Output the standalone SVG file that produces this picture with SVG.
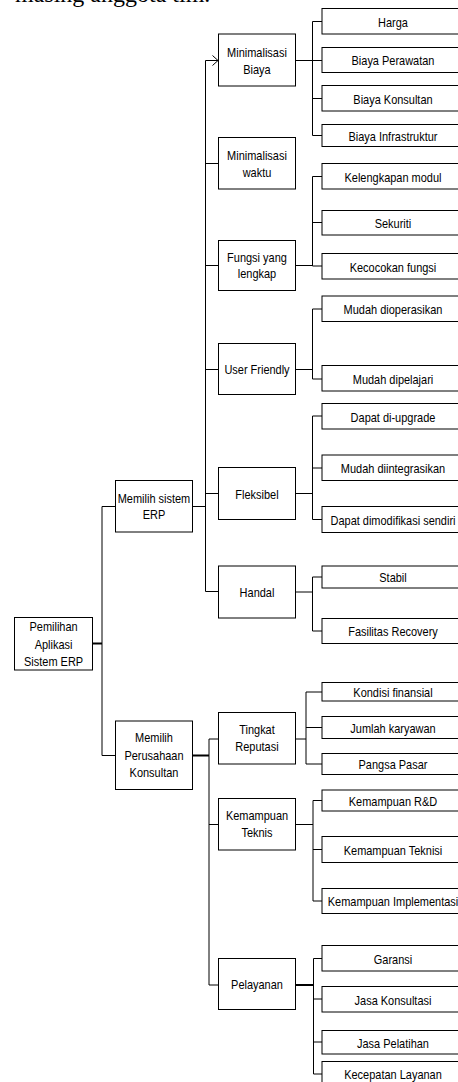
<svg xmlns="http://www.w3.org/2000/svg" width="458" height="1082" viewBox="0 0 458 1082">
<defs>
<style>
.box{fill:#fff;stroke:#000;stroke-width:1}
.t{font-family:"Liberation Sans",Arial,sans-serif;font-size:13px;fill:#000;text-anchor:middle}
.c{fill:none;stroke:#000;stroke-width:1}
.ct{fill:none;stroke:#000;stroke-width:2}
.cap{font-family:"Liberation Serif","Times New Roman",serif;font-size:24px;fill:#000}
</style>
<marker id="arr" viewBox="0 0 8 12" markerWidth="8" markerHeight="12" refX="6" refY="6" orient="auto" markerUnits="userSpaceOnUse">
<path d="M0.5,1 L6,6 L0.5,11" fill="none" stroke="#000" stroke-width="1"/>
</marker>
</defs>
<rect x="0" y="0" width="458" height="1082" fill="#fff"/>
<text class="cap" x="15" y="2">masing anggota tim.</text>

<g id="connectors">
<path class="ct" d="M92.5 643.5 H102"/>
<path class="c" d="M102 506.5 V755.5 M102 506.5 H115.5 M102 755.5 H115.5"/>
<path class="c" d="M192.5 506.5 H205.5 M205.5 60.5 V591.5 M205.5 163.5 H218.5 M205.5 265.5 H218.5 M205.5 369.5 H218.5 M205.5 493.5 H218.5 M205.5 591.5 H218.5"/>
<path class="c" d="M205.5 60.5 H218" marker-end="url(#arr)"/>
<path class="ct" d="M192.5 755.5 H209"/>
<path class="c" d="M209 739 V985 M209 739 H218.5 M209 824.5 H218.5 M209 985 H218.5"/>
<path class="c" d="M295.5 60.5 H312.5 M312.5 21.5 V135.5 M312.5 21.5 H322 M312.5 60.5 H322 M312.5 98.5 H322 M312.5 135.5 H322"/>
<path class="c" d="M295.5 265.5 H312.5 M312.5 176.5 V266 M312.5 176.5 H322 M312.5 222.5 H322 M312.5 266 H322"/>
<path class="c" d="M295.5 369.5 H312.5 M312.5 309 V379 M312.5 309 H322 M312.5 379 H322"/>
<path class="c" d="M295.5 493.5 H312.5 M312.5 416 V519.5 M312.5 416 H322 M312.5 468 H322 M312.5 519.5 H322"/>
<path class="c" d="M295.5 592 H312.5 M312.5 577 V631 M312.5 577 H322 M312.5 631 H322"/>
<path class="c" d="M295.5 739 H306 M306 692 V764 M306 692 H322 M306 727.5 H322 M306 764 H322"/>
<path class="c" d="M295.5 824.5 H313 M313 800.5 V901 M313 800.5 H322 M313 849.5 H322 M313 901 H322"/>
<path class="ct" d="M295.5 985 H313.5"/>
<path class="c" d="M313.5 958.5 V1074 M313.5 958.5 H322 M313.5 999 H322 M313.5 1042 H322 M313.5 1074 H322"/>
</g>

<g id="n-root"><rect class="box" x="14.5" y="617.5" width="78" height="52.5"/>
<text class="t" transform="scale(0.845 1)" x="63.43" y="631.5">Pemilihan</text>
<text class="t" transform="scale(0.845 1)" x="63.43" y="649">Aplikasi</text>
<text class="t" transform="scale(0.845 1)" x="63.43" y="666.5">Sistem ERP</text></g>

<g id="n-sistem"><rect class="box" x="115.5" y="480.5" width="77" height="51.5"/>
<text class="t" transform="scale(0.845 1)" x="182.25" y="503">Memilih sistem</text>
<text class="t" transform="scale(0.845 1)" x="182.25" y="519.5">ERP</text></g>

<g id="n-konsultan"><rect class="box" x="115.5" y="721" width="77" height="68.5"/>
<text class="t" transform="scale(0.845 1)" x="182.25" y="742">Memilih</text>
<text class="t" transform="scale(0.845 1)" x="182.25" y="759.7">Perusahaan</text>
<text class="t" transform="scale(0.845 1)" x="182.25" y="777.4">Konsultan</text></g>

<g id="n-biaya"><rect class="box" x="218.5" y="34" width="77" height="52"/>
<text class="t" transform="scale(0.845 1)" x="304.14" y="57.5">Minimalisasi</text>
<text class="t" transform="scale(0.845 1)" x="304.14" y="74">Biaya</text></g>

<g id="n-waktu"><rect class="box" x="218.5" y="137.5" width="77" height="51.5"/>
<text class="t" transform="scale(0.845 1)" x="304.14" y="160.5">Minimalisasi</text>
<text class="t" transform="scale(0.845 1)" x="304.14" y="177">waktu</text></g>

<g id="n-fungsi"><rect class="box" x="218.5" y="240.5" width="77" height="50"/>
<text class="t" transform="scale(0.845 1)" x="304.14" y="262">Fungsi yang</text>
<text class="t" transform="scale(0.845 1)" x="304.14" y="278.5">lengkap</text></g>

<g id="n-user"><rect class="box" x="218.5" y="343.5" width="77" height="51"/>
<text class="t" transform="scale(0.845 1)" x="304.14" y="374.5">User Friendly</text></g>

<g id="n-fleksibel"><rect class="box" x="218.5" y="467.5" width="77" height="52"/>
<text class="t" transform="scale(0.845 1)" x="304.14" y="499">Fleksibel</text></g>

<g id="n-handal"><rect class="box" x="218.5" y="566" width="77" height="52"/>
<text class="t" transform="scale(0.845 1)" x="304.14" y="597.5">Handal</text></g>

<g id="n-reputasi"><rect class="box" x="218.5" y="712.5" width="77" height="51.5"/>
<text class="t" transform="scale(0.845 1)" x="304.14" y="734.5">Tingkat</text>
<text class="t" transform="scale(0.845 1)" x="304.14" y="751.5">Reputasi</text></g>

<g id="n-teknis"><rect class="box" x="218.5" y="798.5" width="77" height="51.5"/>
<text class="t" transform="scale(0.845 1)" x="304.14" y="820.5">Kemampuan</text>
<text class="t" transform="scale(0.845 1)" x="304.14" y="837.5">Teknis</text></g>

<g id="n-pelayanan"><rect class="box" x="218.5" y="958.5" width="77" height="51"/>
<text class="t" transform="scale(0.845 1)" x="304.14" y="989.5">Pelayanan</text></g>

<g id="l-harga"><rect class="box" x="322" y="8.5" width="142" height="25.5"/><text class="t" transform="scale(0.845 1)" x="465.09" y="26.6">Harga</text></g>
<g id="l-perawatan"><rect class="box" x="322" y="47.5" width="142" height="25"/><text class="t" transform="scale(0.845 1)" x="465.09" y="65.3">Biaya Perawatan</text></g>
<g id="l-bkonsultan"><rect class="box" x="322" y="85.5" width="142" height="25.5"/><text class="t" transform="scale(0.845 1)" x="465.09" y="103.6">Biaya Konsultan</text></g>
<g id="l-infra"><rect class="box" x="322" y="124.5" width="142" height="22"/><text class="t" transform="scale(0.845 1)" x="465.09" y="140.8">Biaya Infrastruktur</text></g>
<g id="l-modul"><rect class="box" x="322" y="163.5" width="142" height="25.5"/><text class="t" transform="scale(0.845 1)" x="465.09" y="181.6">Kelengkapan modul</text></g>
<g id="l-sekuriti"><rect class="box" x="322" y="210.5" width="142" height="24.5"/><text class="t" transform="scale(0.845 1)" x="465.09" y="228">Sekuriti</text></g>
<g id="l-kecocokan"><rect class="box" x="322" y="253.5" width="142" height="25.5"/><text class="t" transform="scale(0.845 1)" x="465.09" y="271.6">Kecocokan fungsi</text></g>
<g id="l-dioperasikan"><rect class="box" x="322" y="296" width="142" height="25.5"/><text class="t" transform="scale(0.845 1)" x="465.09" y="314.1">Mudah dioperasikan</text></g>
<g id="l-dipelajari"><rect class="box" x="322" y="365.5" width="142" height="25.5"/><text class="t" transform="scale(0.845 1)" x="465.09" y="383.6">Mudah dipelajari</text></g>
<g id="l-upgrade"><rect class="box" x="322" y="403.5" width="142" height="25.5"/><text class="t" transform="scale(0.845 1)" x="465.09" y="421.6">Dapat di-upgrade</text></g>
<g id="l-integrasi"><rect class="box" x="322" y="455" width="142" height="25.5"/><text class="t" transform="scale(0.845 1)" x="465.09" y="473.1">Mudah diintegrasikan</text></g>
<g id="l-modifikasi"><rect class="box" x="322" y="506.5" width="142" height="26"/><text class="t" transform="scale(0.845 1)" x="465.09" y="524.8">Dapat dimodifikasi sendiri</text></g>
<g id="l-stabil"><rect class="box" x="322" y="566" width="142" height="22"/><text class="t" transform="scale(0.845 1)" x="465.09" y="582.3">Stabil</text></g>
<g id="l-recovery"><rect class="box" x="322" y="618.5" width="142" height="25"/><text class="t" transform="scale(0.845 1)" x="465.09" y="636.3">Fasilitas Recovery</text></g>
<g id="l-finansial"><rect class="box" x="322" y="682.5" width="142" height="18.5"/><text class="t" transform="scale(0.845 1)" x="465.09" y="697">Kondisi finansial</text></g>
<g id="l-karyawan"><rect class="box" x="322" y="716.5" width="142" height="22"/><text class="t" transform="scale(0.845 1)" x="465.09" y="732.8">Jumlah karyawan</text></g>
<g id="l-pasar"><rect class="box" x="322" y="753.5" width="142" height="21"/><text class="t" transform="scale(0.845 1)" x="465.09" y="769.3">Pangsa Pasar</text></g>
<g id="l-rnd"><rect class="box" x="322" y="790" width="142" height="21"/><text class="t" transform="scale(0.845 1)" x="465.09" y="805.8">Kemampuan R&amp;D</text></g>
<g id="l-teknisi"><rect class="box" x="322" y="836.5" width="142" height="26"/><text class="t" transform="scale(0.845 1)" x="465.09" y="854.8">Kemampuan Teknisi</text></g>
<g id="l-implementasi"><rect class="box" x="322" y="888.5" width="142" height="25"/><text class="t" transform="scale(0.845 1)" x="465.09" y="906.3">Kemampuan Implementasi</text></g>
<g id="l-garansi"><rect class="box" x="322" y="945.5" width="142" height="25.5"/><text class="t" transform="scale(0.845 1)" x="465.09" y="963.6">Garansi</text></g>
<g id="l-jkonsultasi"><rect class="box" x="322" y="986.5" width="142" height="25.5"/><text class="t" transform="scale(0.845 1)" x="465.09" y="1004.6">Jasa Konsultasi</text></g>
<g id="l-pelatihan"><rect class="box" x="322" y="1030.5" width="142" height="23.5"/><text class="t" transform="scale(0.845 1)" x="465.09" y="1047.6">Jasa Pelatihan</text></g>
<g id="l-kecepatan"><rect class="box" x="322" y="1061.5" width="142" height="25"/><text class="t" transform="scale(0.845 1)" x="465.09" y="1079.3">Kecepatan Layanan</text></g>
</svg>
